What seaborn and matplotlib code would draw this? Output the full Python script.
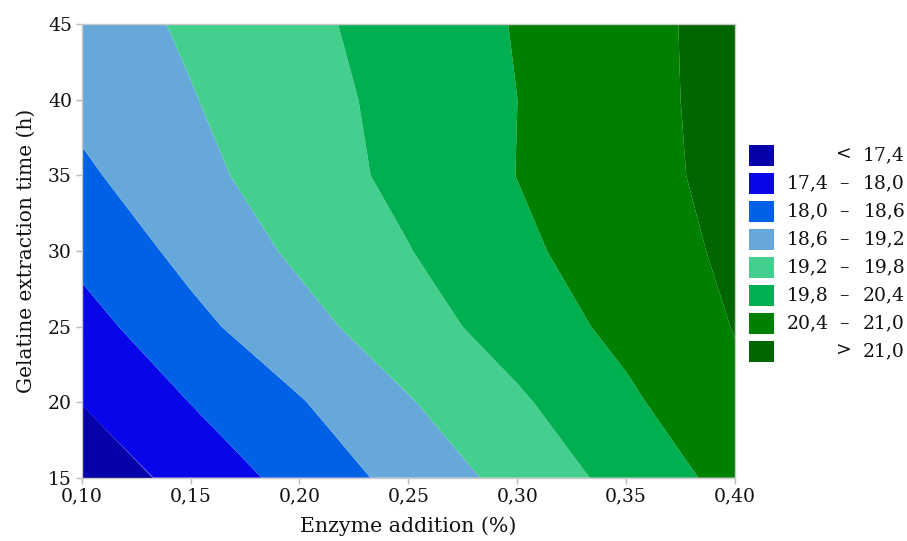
import numpy as np
import matplotlib
matplotlib.use("Agg")
import matplotlib.pyplot as plt
from matplotlib.patches import Rectangle
from matplotlib.ticker import FuncFormatter, MultipleLocator
import seaborn as sns

# grid (rows = extraction time, cols = enzyme addition)
enzyme = [0.10, 0.15, 0.20, 0.25, 0.30, 0.35, 0.40]
hours = [15, 20, 25, 30, 35, 40, 45]
z_15 = [17.005, 17.606, 18.21, 18.809, 19.403, 20.00, 20.603]
z_20 = [17.416, 18.011, 18.56, 19.16, 19.714, 20.293, 20.89]
z_25 = [17.775, 18.44, 19.005, 19.54, 20.064, 20.56, 21.02]
z_30 = [18.16, 18.77, 19.305, 19.779, 20.284, 20.707, 21.106]
z_35 = [18.499, 19.026, 19.504, 19.957, 20.408, 20.791, 21.17]
z_40 = [18.76, 19.169, 19.578, 19.988, 20.399, 20.80, 21.20]
z_45 = [18.903, 19.284, 19.664, 20.047, 20.432, 20.816, 21.20]

levels = [16.0, 17.4, 18.0, 18.6, 19.2, 19.8, 20.4, 21.0, 22.0]
colors = ["#0500a8", "#0806e8", "#0060e6", "#66a8da", "#45cf8e",
          "#00b050", "#008000", "#006700"]
low_labels = ["", "17,4", "18,0", "18,6", "19,2", "19,8", "20,4", ""]
mid_labels = ["<", "–", "–", "–", "–", "–", "–", ">"]
high_labels = ["17,4", "18,0", "18,6", "19,2", "19,8", "20,4", "21,0", "21,0"]

sns.set_style("ticks")
plt.rcParams["font.family"] = ["DejaVu Serif"]
FS = 13.5
TXT = "#111111"

Z = np.array([z_15, z_20, z_25, z_30, z_35, z_40, z_45])
X, Y = np.meshgrid(enzyme, hours)

fig = plt.figure(figsize=(9.07, 5.41), dpi=100)
ax = fig.add_axes([0.0901, 0.117, 0.7203, 0.838])
ax.contourf(X, Y, Z, levels=levels, colors=colors, antialiased=True)

ax.set_xlim(0.10, 0.40)
ax.set_ylim(15, 45)
ax.xaxis.set_major_locator(MultipleLocator(0.05))
ax.yaxis.set_major_locator(MultipleLocator(5))
ax.xaxis.set_major_formatter(FuncFormatter(lambda v, p: f"{v:.2f}".replace(".", ",")))
ax.tick_params(axis="both", direction="out", length=4, width=1, color="#bbbbbb",
               labelsize=FS, pad=3, labelcolor=TXT)
for s in ax.spines.values():
    s.set_color("#c8c8c8")
    s.set_linewidth(1)

ax.set_xlabel("Enzyme addition (%)", fontsize=14.8, labelpad=8, color=TXT)
ax.set_ylabel("Gelatine extraction time (h)", fontsize=14.5, labelpad=9, color=TXT)

# legend, drawn by hand to keep the column layout
W, H = 907, 541
for i, c in enumerate(colors):
    top = 145 + i * 28
    fig.patches.append(Rectangle((749 / W, 1 - (top + 20.5) / H), 25 / W, 20.5 / H,
                                 transform=fig.transFigure, facecolor=c, edgecolor="none"))
    yc = 1 - (top + 10) / H
    if low_labels[i]:
        fig.text(787 / W, yc, low_labels[i], fontsize=FS, ha="left", va="center", color=TXT)
    fig.text(844 / W, yc, mid_labels[i], fontsize=FS, ha="center", va="center", color=TXT)
    fig.text(905 / W, yc, high_labels[i], fontsize=FS, ha="right", va="center", color=TXT)

fig.savefig("out.png", dpi=100)
